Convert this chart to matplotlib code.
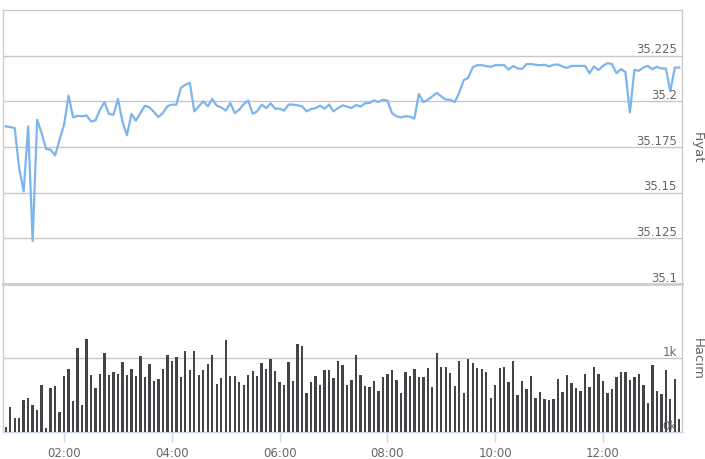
import matplotlib
matplotlib.use("Agg")
import matplotlib.pyplot as plt
import matplotlib.dates as mdates
import pandas as pd

# 5 minute bars, first one at 00:55
start_time = "2024-01-01 00:55"
step = "5min"

price = [
    35.1863, 35.1859, 35.1854, 35.1635, 35.1507, 35.1863, 35.1236, 35.1899, 35.1826, 35.1739,
    35.1735, 35.1704, 35.1790, 35.1872, 35.2031, 35.1912, 35.1921, 35.1918, 35.1923, 35.1890,
    35.1896, 35.1954, 35.1996, 35.1931, 35.1927, 35.2013, 35.1890, 35.1814, 35.1931, 35.1894,
    35.1936, 35.1976, 35.1967, 35.1942, 35.1914, 35.1936, 35.1973, 35.1982, 35.1982, 35.2073,
    35.2091, 35.2101, 35.1945, 35.1973, 35.2000, 35.1973, 35.2013, 35.1976, 35.1967, 35.1949,
    35.1991, 35.1936, 35.1954, 35.1985, 35.2004, 35.1932, 35.1945, 35.1982, 35.1963, 35.1989,
    35.1960, 35.1960, 35.1949, 35.1982, 35.1982, 35.1978, 35.1973, 35.1945, 35.1958, 35.1963,
    35.1976, 35.1960, 35.1982, 35.1945, 35.1963, 35.1978, 35.1971, 35.1963, 35.1980, 35.1971,
    35.1989, 35.1991, 35.2005, 35.1996, 35.2009, 35.2004, 35.1936, 35.1918, 35.1912, 35.1918,
    35.1916, 35.1905, 35.2040, 35.1995, 35.2009, 35.2027, 35.2046, 35.2027, 35.2009, 35.2009,
    35.1996, 35.2048, 35.2116, 35.2129, 35.2187, 35.2198, 35.2198, 35.2193, 35.2189, 35.2198,
    35.2198, 35.2198, 35.2174, 35.2194, 35.2180, 35.2178, 35.2204, 35.2204, 35.2200, 35.2198,
    35.2200, 35.2191, 35.2200, 35.2202, 35.2191, 35.2183, 35.2194, 35.2194, 35.2194, 35.2194,
    35.2154, 35.2191, 35.2172, 35.2194, 35.2209, 35.2204, 35.2154, 35.2176, 35.2161, 35.1939,
    35.2172, 35.2167, 35.2185, 35.2194, 35.2176, 35.2189, 35.2180, 35.2180, 35.2056, 35.2185,
    35.2185,
]

volume = [
    72, 333, 185, 185, 432, 459, 365, 297, 640, 54,
    590, 617, 266, 752, 851, 419, 1130, 365, 1257, 770,
    590, 788, 1063, 770, 806, 788, 946, 770, 851, 757,
    1027, 743, 919, 689, 721, 851, 1045, 964, 1009, 743,
    1095, 838, 1095, 770, 838, 919, 1045, 644, 725, 1239,
    752, 752, 671, 640, 770, 820, 752, 932, 851, 982,
    820, 676, 640, 946, 689, 1189, 1158, 527, 671, 752,
    640, 833, 833, 725, 964, 901, 640, 703, 1045, 770,
    622, 608, 689, 559, 739, 784, 838, 703, 527, 806,
    752, 851, 739, 739, 865, 608, 1063, 883, 883, 802,
    622, 964, 527, 982, 932, 865, 851, 815, 459, 640,
    865, 883, 676, 964, 495, 689, 577, 752, 459, 541,
    441, 432, 441, 721, 545, 770, 658, 590, 559, 784,
    608, 883, 788, 689, 527, 577, 739, 806, 806, 703,
    739, 784, 640, 396, 901, 559, 509, 833, 441, 721,
    171,
]

price_ticks = [35.1, 35.125, 35.15, 35.175, 35.2, 35.225]
price_labels = ["35.1", "35.125", "35.15", "35.175", "35.2", "35.225"]
volume_ticks = [0, 1000]
volume_labels = ["0k", "1k"]

LINE = "#7cb5ec"
BAR = "#434348"
GRID = "#c8c8c8"
BORDER = "#cccccc"
SEPARATOR = "#d0d0d0"
AXIS = "#ccd6eb"
TEXT = "#666666"

times = pd.date_range(start_time, periods=len(price), freq=step)

fig = plt.figure(figsize=(7.05, 4.6), dpi=100)
ax_p = fig.add_axes([3 / 705, 1 - 285 / 460, 679 / 705, 274 / 460])
ax_v = fig.add_axes([3 / 705, 1 - 433 / 460, 679 / 705, 148 / 460], sharex=ax_p)
ax_v.patch.set_alpha(0)

# price panel
ax_p.plot(times, price, color=LINE, lw=1.6, solid_joinstyle="round", zorder=3)
ax_p.set_ylim(35.1, 35.25)
ax_p.set_yticks(price_ticks)
ax_p.yaxis.grid(True, color=GRID, lw=1)
ax_p.tick_params(axis="y", left=False, labelleft=False)
ax_p.tick_params(axis="x", bottom=False, labelbottom=False)
for v, lab in zip(price_ticks, price_labels):
    ax_p.annotate(lab, xy=(0.9926, v), xycoords=ax_p.get_yaxis_transform(),
                  xytext=(0, 2.5), textcoords="offset points",
                  ha="right", va="baseline", fontsize=8.5, color=TEXT, zorder=4)

# volume panel
bar_w = 2.6 / 1440
ax_v.bar(times, volume, width=bar_w, color=BAR, linewidth=0, zorder=3)
ax_v.set_ylim(0, 2000)
ax_v.set_yticks(volume_ticks)
ax_v.yaxis.grid(True, color=GRID, lw=1)
ax_v.tick_params(axis="y", left=False, labelleft=False)
for v, lab in zip(volume_ticks, volume_labels):
    ax_v.annotate(lab, xy=(0.9926, v), xycoords=ax_v.get_yaxis_transform(),
                  xytext=(0, 2.5), textcoords="offset points",
                  ha="right", va="baseline", fontsize=8.5, color=TEXT, zorder=4)

ax_v.set_xlim(times[0] - pd.Timedelta(minutes=3), times[-1] + pd.Timedelta(minutes=3))
ax_v.xaxis.set_major_locator(mdates.HourLocator(byhour=range(2, 14, 2)))
ax_v.xaxis.set_major_formatter(mdates.DateFormatter("%H:%M"))
ax_v.tick_params(axis="x", length=7, width=1, color=AXIS, labelsize=8.5,
                 labelcolor=TEXT, pad=3)

for ax in (ax_p, ax_v):
    for side in ("left", "right", "top"):
        ax.spines[side].set_color(BORDER)
        ax.spines[side].set_linewidth(1)
# separator between the two panels
ax_p.spines["bottom"].set_visible(False)
ax_v.spines["top"].set_color(SEPARATOR)
ax_v.spines["top"].set_linewidth(2.2)
ax_v.spines["top"].set_zorder(5)
ax_v.spines["bottom"].set_color(AXIS)
ax_v.spines["bottom"].set_linewidth(1)

fig.text(697 / 705, 1 - 148 / 460, "Fiyat", rotation=270, ha="center", va="center",
         fontsize=9.5, color=TEXT)
fig.text(697 / 705, 1 - 359 / 460, "Hacim", rotation=270, ha="center", va="center",
         fontsize=9.5, color=TEXT)

fig.savefig("out.png", dpi=100)
